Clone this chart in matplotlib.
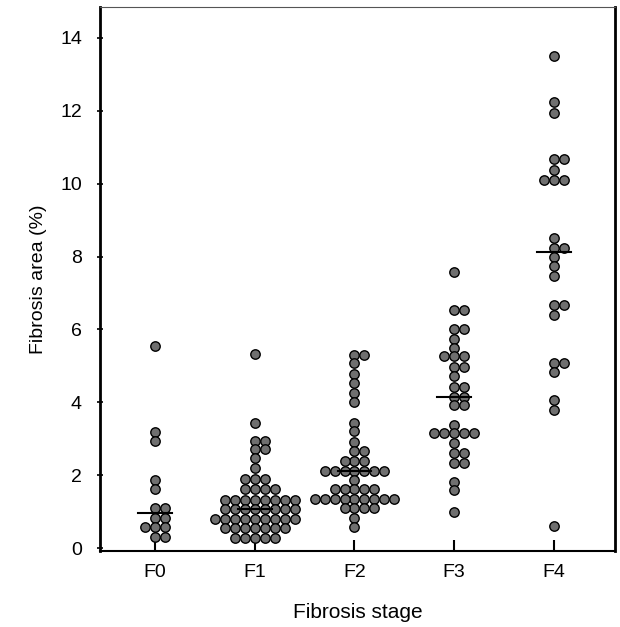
import numpy as np
import matplotlib
matplotlib.use("Agg")
import matplotlib.pyplot as plt

plt.rcParams['font.family'] = ['Liberation Sans', 'DejaVu Sans']

# Fibrosis area (%) per patient
stages = ['F0', 'F1', 'F2', 'F3', 'F4']

f0 = [5.55, 3.18, 2.95, 1.87, 1.61, 1.09, 1.09, 0.82, 0.82,
      0.57, 0.57, 0.57, 0.31, 0.31]
f1 = [5.33, 3.44, 2.95, 2.95, 2.71, 2.71, 2.46, 2.20]
f1 += [1.91] * 3 + [1.61] * 4 + [1.32] * 8 + [1.06] * 8
f1 += [0.81] * 9 + [0.55] * 7 + [0.29] * 5
f2 = [5.30, 5.30, 5.07, 4.77, 4.52, 4.25, 4.02, 3.44, 3.20, 2.92,
      2.67, 2.67]
f2 += [2.40] * 3 + [2.12] * 7 + [1.87] + [1.61] * 5 + [1.34] * 9
f2 += [1.09] * 4 + [0.82, 0.59]
f3 = [7.59, 6.54, 6.54, 6.01, 6.01, 5.73, 5.49, 5.26, 5.26, 5.26,
      4.96, 4.96, 4.71, 4.43, 4.43, 4.16, 4.16, 3.93, 3.93, 3.38]
f3 += [3.15] * 5 + [2.88, 2.62, 2.62, 2.34, 2.34, 1.82, 1.59, 1.00]
f4 = [13.50, 12.23, 11.94, 10.68, 10.68, 10.38, 10.11, 10.11, 10.11,
      8.51, 8.23, 8.23, 8.00, 7.73, 7.47, 6.68, 6.68, 6.40,
      5.09, 5.09, 4.82, 4.07, 3.79, 0.60]

groups = [f0, f1, f2, f3, f4]


def swarm_offsets(vals, step=0.1):
    # dots with the same value go side by side: 0, +1, -1, +2, -2 ...
    seen = {}
    offs = []
    for v in vals:
        k = seen.get(v, 0)
        seen[v] = k + 1
        n = (k + 1) // 2
        offs.append(n * step if k % 2 == 1 else -n * step)
    return np.array(offs)


fig = plt.figure(figsize=(6.2, 6.27), dpi=100)
ax = fig.add_axes([0.1613, 0.1212, 0.8307, 0.8676])

for i, vals in enumerate(groups):
    x = i + swarm_offsets(vals)
    ax.scatter(x, vals, s=46, facecolor='#6f6f6f', edgecolor='black',
               linewidth=1.0, zorder=3)
    med = np.median(vals)
    ax.plot([i - 0.17, i + 0.17], [med, med], color='black', lw=1.5, zorder=4)

ax.set_xlim(-0.551, 4.612)
ax.set_ylim(-0.08, 14.85)
ax.set_xticks(range(len(stages)))
ax.set_xticklabels(stages)
ax.set_yticks(range(0, 15, 2))

ax.tick_params(axis='x', direction='in', length=8, width=1.5, pad=9,
               labelsize=14)
ax.tick_params(axis='y', direction='inout', length=4, width=1.2, pad=11,
               labelsize=14)

ax.spines['left'].set_linewidth(2)
ax.spines['right'].set_linewidth(2)
ax.spines['bottom'].set_linewidth(1.5)
ax.spines['top'].set_linewidth(0.8)
ax.spines['top'].set_color('#555555')

ax.set_xlabel('Fibrosis stage', fontsize=15, labelpad=16)
ax.set_ylabel('Fibrosis area (%)', fontsize=14)
ax.yaxis.set_label_coords(-0.103, 0.5)

fig.savefig('out.png', dpi=100)
plt.close(fig)
